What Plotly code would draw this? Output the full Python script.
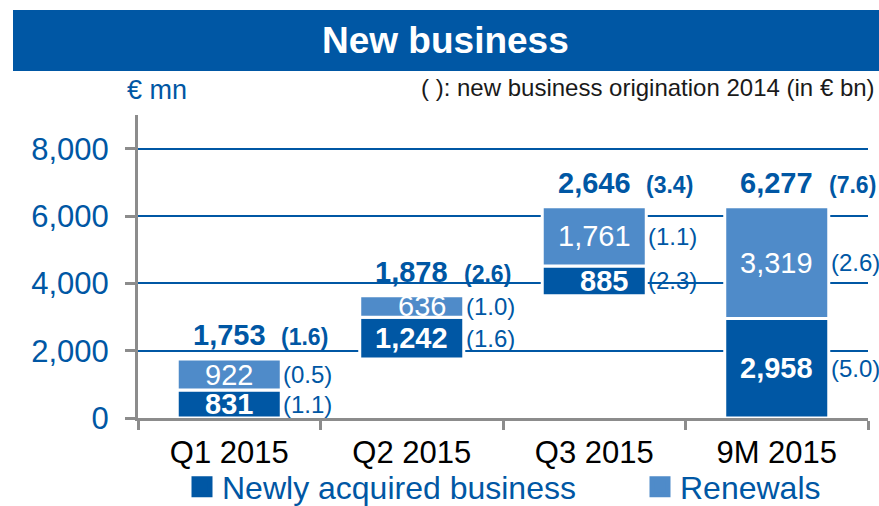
import plotly.graph_objects as go

# ---------------- data ----------------
categories = ["Q1 2015", "Q2 2015", "Q3 2015", "9M 2015"]
newly_acquired = [831, 1242, 885, 2958]
renewals = [922, 636, 1761, 3319]
totals = [1753, 1878, 2646, 6277]
newly_2014 = ["(1.1)", "(1.6)", "(2.3)", "(5.0)"]
renewals_2014 = ["(0.5)", "(1.0)", "(1.1)", "(2.6)"]
totals_2014 = ["(1.6)", "(2.6)", "(3.4)", "(7.6)"]
is_cumulative = [False, False, False, True]
y_ticks = [0, 2000, 4000, 6000, 8000]

# ---------------- styles ----------------
DARK = "#0057A4"
LIGHT = "#4F8BC9"
GREY = "#8C8C8C"
FONT = "Liberation Sans, Arial, sans-serif"
W, H = 879, 506
# plot area in page pixels: x 138..868, y 115..418
ML, MR, MT, MB = 138, W - 868, 115, H - 418
PW, PH = W - ML - MR, H - MT - MB
inside_shift_new = [0, 0, 10, 0]
inside_shift_ren = [0, 10, 0, 0]


def px_x(page_px):
    return (page_px - ML) / PW


def px_y(page_py):
    return (H - MB - page_py) / PH


# waterfall bases: quarters stack on each other, the 9M bar starts at zero
bases = []
running = 0
for t, cum in zip(totals, is_cumulative):
    if cum:
        bases.append(0)
    else:
        bases.append(running)
        running += t
renewal_bases = [b + n for b, n in zip(bases, newly_acquired)]
tops = [b + r for b, r in zip(renewal_bases, renewals)]

fig = go.Figure()
bar_w = 0.57
fig.add_trace(go.Bar(
    x=categories, y=newly_acquired, base=bases, width=bar_w,
    marker=dict(color=DARK, line=dict(color="white", width=3)),
    showlegend=False, hoverinfo="skip"))
fig.add_trace(go.Bar(
    x=categories, y=renewals, base=renewal_bases, width=bar_w,
    marker=dict(color=LIGHT, line=dict(color="white", width=3)),
    showlegend=False, hoverinfo="skip"))

# legend entries
for name, col, lw in [("Newly acquired business", DARK, 413), ("Renewals", LIGHT, 150)]:
    fig.add_trace(go.Scatter(
        x=[None], y=[None], mode="markers", name=name, legendwidth=lw,
        marker=dict(symbol="square", size=16, color=col,
                    line=dict(color=col, width=5))))

ann = []
for i, c in enumerate(categories):
    # inside labels
    ann.append(dict(x=c, y=bases[i] + newly_acquired[i] / 2, xref="x", yref="y",
                    text=f"<b>{newly_acquired[i]:,}</b>", showarrow=False,
                    xshift=inside_shift_new[i],
                    font=dict(size=29, color="white", family=FONT),
                    xanchor="center", yanchor="middle"))
    ann.append(dict(x=c, y=renewal_bases[i] + renewals[i] / 2, xref="x", yref="y",
                    text=f"{renewals[i]:,}", showarrow=False,
                    xshift=inside_shift_ren[i],
                    font=dict(size=29, color="white", family=FONT),
                    xanchor="center", yanchor="middle"))
    # 2014 comparison labels
    ann.append(dict(x=c, y=bases[i] + newly_acquired[i] / 2, xref="x", yref="y",
                    text=newly_2014[i], showarrow=False, xanchor="left", xshift=52,
                    font=dict(size=24, color=DARK, family=FONT), yanchor="middle"))
    ann.append(dict(x=c, y=renewal_bases[i] + renewals[i] / 2, xref="x", yref="y",
                    text=renewals_2014[i], showarrow=False, xanchor="left", xshift=52,
                    font=dict(size=24, color=DARK, family=FONT), yanchor="middle"))
    # totals
    ann.append(dict(x=c, y=tops[i], xref="x", yref="y",
                    text=f"<b>{totals[i]:,}</b>", showarrow=False,
                    xanchor="center", yanchor="bottom",
                    yshift=6, font=dict(size=29, color=DARK, family=FONT)))
    ann.append(dict(x=c, y=tops[i], xref="x", yref="y",
                    text=f"<b>{totals_2014[i]}</b>", showarrow=False, yanchor="bottom",
                    xanchor="left", xshift=50, yshift=7,
                    font=dict(size=23, color=DARK, family=FONT)))

# header texts
ann.append(dict(x=px_x(445), y=px_y(41), xref="paper", yref="paper",
                text="<b>New business</b>", showarrow=False,
                xanchor="center", yanchor="middle",
                font=dict(size=37, color="white", family=FONT)))
ann.append(dict(x=px_x(157), y=px_y(90), xref="paper", yref="paper",
                text="€ mn", showarrow=False, xanchor="center", yanchor="middle",
                font=dict(size=27, color=DARK, family=FONT)))
ann.append(dict(x=px_x(877), y=px_y(87), xref="paper", yref="paper",
                text="( ): new business origination 2014 (in € bn)", showarrow=False,
                xanchor="right", yanchor="middle",
                font=dict(size=24, color="#1a1a1a", family=FONT)))

fig.update_layout(
    width=W, height=H,
    margin=dict(l=ML, r=MR, t=MT, b=MB, autoexpand=False),
    paper_bgcolor="white", plot_bgcolor="white",
    barmode="overlay",
    font=dict(family=FONT),
    annotations=ann,
    shapes=[dict(type="rect", xref="paper", yref="paper",
                 x0=px_x(13), x1=px_x(885), y0=px_y(71), y1=px_y(10),
                 fillcolor=DARK, line=dict(width=0), layer="below")],
    legend=dict(orientation="h", x=px_x(182), xanchor="left",
                y=px_y(487), yanchor="middle",
                font=dict(size=32, color=DARK, family=FONT),
                bgcolor="rgba(0,0,0,0)", itemsizing="trace"),
    xaxis=dict(type="category", range=[-0.5, 3.5], tickson="boundaries",
               ticks="outside", ticklen=9, tickwidth=3, tickcolor=GREY,
               showline=True, linecolor=GREY, linewidth=3, showgrid=False,
               tickfont=dict(size=31, color="black", family=FONT),
               ticklabelstandoff=5),
    yaxis=dict(range=[0, 9000], tickvals=y_ticks, tickformat=",",
               ticks="outside", ticklen=10, tickwidth=3, tickcolor=GREY,
               showline=True, linecolor=GREY, linewidth=3,
               showgrid=True, gridcolor=DARK, gridwidth=2, zeroline=False,
               tickfont=dict(size=31, color=DARK, family=FONT),
               ticklabelstandoff=10),
)

# remove the browser's default page margin so the figure fills the window
fig.write_html("out.html", config={"displayModeBar": False},
               post_script="document.body.style.margin='0';")
